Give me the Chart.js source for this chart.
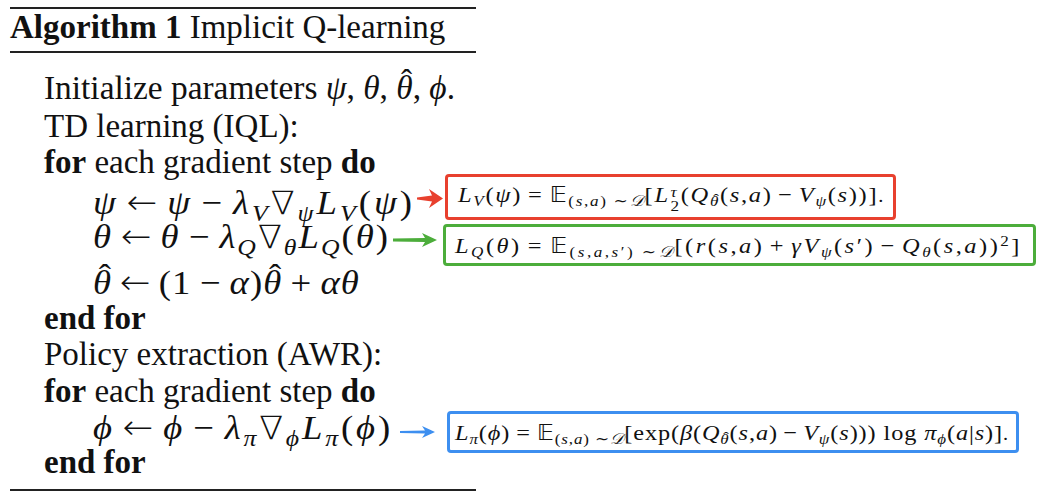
<!DOCTYPE html>
<html>
<head>
<meta charset="utf-8">
<script src="https://cdn.jsdelivr.net/npm/chart.js@4.4.0/dist/chart.umd.min.js"></script>
<style>
  html, body { margin: 0; padding: 0; background: #fff; }
  #page { position: relative; width: 1044px; height: 498px; overflow: hidden;
          font-family: 'Liberation Serif', 'DejaVu Serif', serif; color: #111; }
  #overlay { position: absolute; left: 0; top: 0; z-index: 2; pointer-events: none; }
  .rule { position: absolute; left: 10px; width: 466px; background: #222; }
  .title { position: absolute; left: 10px; font-size: 33px; line-height: normal; white-space: nowrap; }
  .line { position: absolute; line-height: normal; white-space: nowrap; transform-origin: 0 50%; }
  .m { font-style: italic; }
  .op { margin: 0 0.22em; font-style: normal; }
  .rel { margin: 0 0.25em; font-style: normal; }
  .arr { font-family: 'DejaVu Sans', sans-serif; font-weight: 200; margin: 0 0.2em; }
  .nab { font-family: 'DejaVu Sans', sans-serif; font-weight: 200; font-size: 0.95em; }
  sub, sup { font-size: 0.7em; line-height: 0; }
  sub { vertical-align: -0.28em; }
  sup { vertical-align: 0.45em; }
  .hat { position: relative; display: inline-block; font-style: italic; }
  .hat::before { content: '\02C6'; position: absolute; left: 0.12em; right: 0; top: -0.17em;
                 text-align: center; font-style: normal; letter-spacing: 0; }
  .ss { display: inline-flex; flex-direction: column; font-size: 0.7em; line-height: 0.95;
        vertical-align: 0.33em; margin-left: 0.05em; }
  .bb { font-family: 'DejaVu Sans', 'DejaVu Serif', serif; font-style: normal; font-size: 0.95em; }
  .cal { font-style: italic; }
  .box { position: absolute; box-sizing: border-box; border: 3px solid; border-radius: 4px; }
  .formula { position: absolute; font-size: 22px; line-height: normal; white-space: nowrap;
             transform-origin: 0 50%; }
</style>
</head>
<body>
<div id="page">
  <div class="rule" style="top:7px;height:2px"></div>
  <div class="title" id="title"><b>Algorithm 1</b> Implicit Q-learning</div>
  <div class="rule" style="top:51px;height:1.5px"></div>
  <div id="lines"></div>
  <div class="rule" style="top:489px;height:2px"></div>
  <div id="boxes"></div>
  <canvas id="overlay" width="1044" height="498"></canvas>
</div>
<script>
// algorithm text, one entry per line
const algoLines = [
  'Initialize parameters <i class="m">ψ</i>, <i class="m">θ</i>, <span class="hat">θ</span>, <i class="m">ϕ</i>.',
  'TD learning (IQL):',
  '<b>for</b> each gradient step <b>do</b>',
  '<i class="m">ψ</i><span class="arr">←</span><i class="m">ψ</i><span class="op">−</span><i class="m">λ</i><sub><i class="m">V</i></sub><span class="nab">∇</span><sub><i class="m">ψ</i></sub><i class="m">L</i><sub><i class="m">V</i></sub>(<i class="m">ψ</i>)',
  '<i class="m">θ</i><span class="arr">←</span><i class="m">θ</i><span class="op">−</span><i class="m">λ</i><sub><i class="m">Q</i></sub><span class="nab">∇</span><sub><i class="m">θ</i></sub><i class="m">L</i><sub><i class="m">Q</i></sub>(<i class="m">θ</i>)',
  '<span class="hat">θ</span><span class="arr">←</span>(1<span class="op">−</span><i class="m">α</i>)<span class="hat">θ</span><span class="op">+</span><i class="m">αθ</i>',
  '<b>end for</b>',
  'Policy extraction (AWR):',
  '<b>for</b> each gradient step <b>do</b>',
  '<i class="m">ϕ</i><span class="arr">←</span><i class="m">ϕ</i><span class="op">−</span><i class="m">λ</i><sub><i class="m">π</i></sub><span class="nab">∇</span><sub><i class="m">ϕ</i></sub><i class="m">L</i><sub><i class="m">π</i></sub>(<i class="m">ϕ</i>)',
  '<b>end for</b>'
];
const lineIndent = [0, 0, 0, 1, 1, 1, 0, 0, 0, 1, 0];
const isMath = [false, false, false, true, true, true, false, false, false, true, false];
// which algorithm line each loss box is linked to
const lossSource = [3, 4, 9];

// the three loss formulas shown in the coloured boxes
const lossFormulas = [
  '<i class="m">L</i><sub><i class="m">V</i></sub>(<i class="m">ψ</i>)<span class="rel">=</span><span class="bb">𝔼</span><sub>(<i class="m">s</i>,<i class="m">a</i>)&nbsp;∼<i class="cal">𝒟</i></sub>[<i class="m">L</i><span class="ss"><i class="m">τ</i><span>2</span></span>(<i class="m">Q</i><sub><span class="hat">θ</span></sub>(<i class="m">s</i>,<i class="m">a</i>)<span class="op">−</span><i class="m">V</i><sub><i class="m">ψ</i></sub>(<i class="m">s</i>))]<small>.</small>',
  '<i class="m">L</i><sub><i class="m">Q</i></sub>(<i class="m">θ</i>)<span class="rel">=</span><span class="bb">𝔼</span><sub>(<i class="m">s</i>,<i class="m">a</i>,<i class="m">s</i>′)&nbsp;∼<i class="cal">𝒟</i></sub>[(<i class="m">r</i>(<i class="m">s</i>,<i class="m">a</i>)<span class="op">+</span><i class="m">γV</i><sub><i class="m">ψ</i></sub>(<i class="m">s</i>′)<span class="op">−</span><i class="m">Q</i><sub><i class="m">θ</i></sub>(<i class="m">s</i>,<i class="m">a</i>))<sup>2</sup>]',
  '<i class="m">L</i><sub><i class="m">π</i></sub>(<i class="m">ϕ</i>)<span class="rel">=</span><span class="bb">𝔼</span><sub>(<i class="m">s</i>,<i class="m">a</i>)&nbsp;∼<i class="cal">𝒟</i></sub>[exp(<i class="m">β</i>(<i class="m">Q</i><sub><span class="hat">θ</span></sub>(<i class="m">s</i>,<i class="m">a</i>)<span class="op">−</span><i class="m">V</i><sub><i class="m">ψ</i></sub>(<i class="m">s</i>))) log <i class="m">π</i><sub><i class="m">ϕ</i></sub>(<i class="m">a</i>|<i class="m">s</i>)]<small>.</small>'
];
const lossColors = ['#e8402e', '#4cad3b', '#3d8ff0'];

// layout (pixels)
const titleBaseline = 38;
const baselines = [99, 137, 173, 212, 246, 292, 329, 365, 402, 437, 473];
const lineRight = [455, null, null, 415, 390, 360, null, null, null, 393, null];
const indentX = [44, 93];
const textSize = 33, mathSize = 34;
const boxRects = [
  { left: 445, top: 174, width: 451, height: 46 },
  { left: 443, top: 224, width: 593, height: 42 },
  { left: 447, top: 411, width: 572, height: 42 }
];
const formulaSpan = [
  { left: 458, right: 885 },
  { left: 455, right: 1022 },
  { left: 455, right: 1009 }
];
const arrowStyle = [
  { tail: 2, shaft: 6, headLen: 14, headH: 19, gap0: 2, gap1: 2, dy: 1.5 },
  { tail: 3, shaft: 4, headLen: 15, headH: 14, gap0: 3, gap1: 6, dy: -5 },
  { tail: 2, shaft: 3, headLen: 13, headH: 12, gap0: 7, gap1: 12, dy: 0 }
];

// widen a line to its target width: a little horizontal scale, the rest as letter spacing
function fitWidth(el, left, right, maxScale) {
  if (right == null) return;
  const target = right - left;
  const w = el.getBoundingClientRect().width;
  const s = Math.min(target / w, maxScale);
  const n = el.textContent.length;
  if (target / s > w) el.style.letterSpacing = ((target / s - w) / n) + 'px';
  const w2 = el.getBoundingClientRect().width;
  el.style.transform = 'scaleX(' + (target / w2) + ')';
}

document.getElementById('title').style.top = (titleBaseline - 33 * 0.891) + 'px';

const linesEl = document.getElementById('lines');
const lineEls = [];
algoLines.forEach((html, i) => {
  const d = document.createElement('div');
  const fs = isMath[i] ? mathSize : textSize;
  d.className = 'line';
  d.style.fontSize = fs + 'px';
  d.style.left = indentX[lineIndent[i]] + 'px';
  d.style.top = (baselines[i] - fs * 0.891) + 'px';
  d.innerHTML = html;
  linesEl.appendChild(d);
  fitWidth(d, indentX[lineIndent[i]], lineRight[i], 1.08);
  lineEls.push(d);
});

const boxesEl = document.getElementById('boxes');
const boxEls = [];
lossFormulas.forEach((html, i) => {
  const r = boxRects[i];
  const b = document.createElement('div');
  b.className = 'box';
  b.style.left = r.left + 'px';
  b.style.top = r.top + 'px';
  b.style.width = r.width + 'px';
  b.style.height = r.height + 'px';
  b.style.borderColor = lossColors[i];
  boxesEl.appendChild(b);
  boxEls.push(b);

  const f = document.createElement('div');
  f.className = 'formula';
  f.innerHTML = html;
  boxesEl.appendChild(f);
  const h = f.getBoundingClientRect().height;
  f.style.left = formulaSpan[i].left + 'px';
  f.style.top = (r.top + r.height / 2 - h / 2 + 1) + 'px';
  fitWidth(f, formulaSpan[i].left, formulaSpan[i].right, 1.1);
});

function drawArrow(ctx, x0, x1, y, color, s) {
  const xh = x1 - s.headLen;
  ctx.save();
  ctx.fillStyle = color;
  ctx.beginPath();
  ctx.moveTo(x0, y - s.tail / 2);
  ctx.lineTo(xh + 3, y - s.shaft / 2);
  ctx.lineTo(xh, y - s.headH / 2);
  ctx.lineTo(x1, y);
  ctx.lineTo(xh, y + s.headH / 2);
  ctx.lineTo(xh + 3, y + s.shaft / 2);
  ctx.lineTo(x0, y + s.tail / 2);
  ctx.closePath();
  ctx.fill();
  ctx.restore();
}

// draws the link arrows from each update rule to its loss box
const linkArrows = {
  id: 'linkArrows',
  afterDraw(chart) {
    const ctx = chart.ctx;
    const page = document.getElementById('page').getBoundingClientRect();
    lossColors.forEach((c, i) => {
      const s = arrowStyle[i];
      const src = lineEls[lossSource[i]].getBoundingClientRect();
      const box = boxEls[i].getBoundingClientRect();
      const y = box.top + box.height / 2 - page.top + s.dy;
      drawArrow(ctx, src.right - page.left + s.gap0, box.left - page.left - s.gap1, y, c, s);
    });
  }
};

const overlay = new Chart(document.getElementById('overlay').getContext('2d'), {
  type: 'scatter',
  data: { datasets: [] },
  options: {
    responsive: false,
    animation: false,
    events: [],
    layout: { padding: 0 },
    scales: { x: { display: false }, y: { display: false } },
    plugins: { legend: { display: false }, tooltip: { enabled: false } }
  },
  plugins: [linkArrows]
});
</script>
</body>
</html>
